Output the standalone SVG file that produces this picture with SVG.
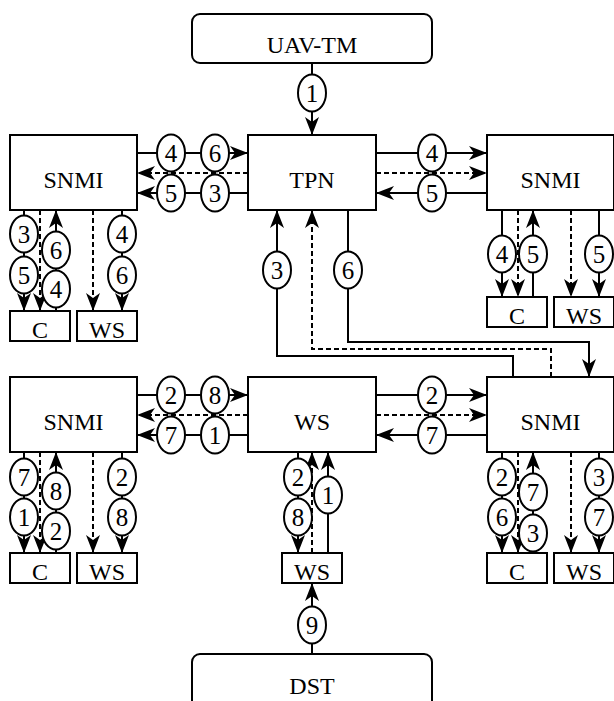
<svg xmlns="http://www.w3.org/2000/svg" width="614" height="701" viewBox="0 0 614 701">
<style>
.box{fill:#fff;stroke:#000;stroke-width:2}
.ln{fill:none;stroke:#000;stroke-width:2;marker-end:url(#ah)}
.dl{fill:none;stroke:#000;stroke-width:2;stroke-dasharray:5,3;marker-end:url(#ah)}
.el ellipse{fill:#fff;stroke:#000;stroke-width:2}
</style>
<defs>
<marker id="ah" markerUnits="userSpaceOnUse" markerWidth="20" markerHeight="16" refX="18" refY="8" orient="auto">
<path d="M18,8 L0,1 L5,8 L0,15 Z" fill="#000"/>
</marker>
</defs>
<rect width="614" height="701" fill="#fff"/>
<g id="connectors">
<path class="ln" d="M312,63 V135"/>
<path class="ln" d="M137,153 H248"/>
<path class="dl" d="M248,173 H137"/>
<path class="ln" d="M248,193 H137"/>
<path class="ln" d="M376,153 H487"/>
<path class="dl" d="M376,173 H487"/>
<path class="ln" d="M487,193 H376"/>
<path class="ln" d="M24,210 V311"/>
<path class="dl" d="M40,210 V311"/>
<path class="ln" d="M56,311 V210"/>
<path class="dl" d="M93,210 V311"/>
<path class="ln" d="M122,210 V311"/>
<path class="ln" d="M502,210 V297"/>
<path class="dl" d="M518,210 V297"/>
<path class="ln" d="M533,297 V210"/>
<path class="dl" d="M571,210 V297"/>
<path class="ln" d="M599,210 V297"/>
<path class="ln" d="M513,377 V356 H277 V210"/>
<path class="dl" d="M551,377 V349 H312 V210"/>
<path class="ln" d="M348,210 V342 H589 V377"/>
<path class="ln" d="M137,395 H248"/>
<path class="dl" d="M248,415 H137"/>
<path class="ln" d="M248,435 H137"/>
<path class="ln" d="M376,395 H487"/>
<path class="dl" d="M376,415 H487"/>
<path class="ln" d="M487,435 H376"/>
<path class="ln" d="M24,452 V553"/>
<path class="dl" d="M40,452 V553"/>
<path class="ln" d="M56,553 V452"/>
<path class="dl" d="M93,452 V553"/>
<path class="ln" d="M122,452 V553"/>
<path class="ln" d="M298,452 V553"/>
<path class="dl" d="M312,553 V452"/>
<path class="ln" d="M328,553 V452"/>
<path class="ln" d="M312,654 V583"/>
<path class="ln" d="M502,452 V553"/>
<path class="dl" d="M518,452 V553"/>
<path class="ln" d="M533,553 V452"/>
<path class="dl" d="M571,452 V553"/>
<path class="ln" d="M599,452 V553"/>
<g class="el" font-family="Liberation Serif, serif" font-size="25" text-anchor="middle" fill="#000">
<g transform="translate(312,93)"><ellipse rx="14" ry="18.5"/><text y="8.5">1</text></g>
<g transform="translate(171,153)"><ellipse rx="14" ry="18.5"/><text y="8.5">4</text></g>
<g transform="translate(215,153)"><ellipse rx="14" ry="18.5"/><text y="8.5">6</text></g>
<g transform="translate(171,193)"><ellipse rx="14" ry="18.5"/><text y="8.5">5</text></g>
<g transform="translate(215,193)"><ellipse rx="14" ry="18.5"/><text y="8.5">3</text></g>
<g transform="translate(432,153)"><ellipse rx="14" ry="18.5"/><text y="8.5">4</text></g>
<g transform="translate(432,193)"><ellipse rx="14" ry="18.5"/><text y="8.5">5</text></g>
<g transform="translate(24,234)"><ellipse rx="14" ry="18.5"/><text y="8.5">3</text></g>
<g transform="translate(24,275)"><ellipse rx="14" ry="18.5"/><text y="8.5">5</text></g>
<g transform="translate(56,250)"><ellipse rx="14" ry="18.5"/><text y="8.5">6</text></g>
<g transform="translate(56,289)"><ellipse rx="14" ry="18.5"/><text y="8.5">4</text></g>
<g transform="translate(122,234)"><ellipse rx="14" ry="18.5"/><text y="8.5">4</text></g>
<g transform="translate(122,275)"><ellipse rx="14" ry="18.5"/><text y="8.5">6</text></g>
<g transform="translate(502,254)"><ellipse rx="14" ry="18.5"/><text y="8.5">4</text></g>
<g transform="translate(533,254)"><ellipse rx="14" ry="18.5"/><text y="8.5">5</text></g>
<g transform="translate(599,254)"><ellipse rx="14" ry="18.5"/><text y="8.5">5</text></g>
<g transform="translate(277,270)"><ellipse rx="14" ry="18.5"/><text y="8.5">3</text></g>
<g transform="translate(348,270)"><ellipse rx="14" ry="18.5"/><text y="8.5">6</text></g>
<g transform="translate(171,395)"><ellipse rx="14" ry="18.5"/><text y="8.5">2</text></g>
<g transform="translate(215,395)"><ellipse rx="14" ry="18.5"/><text y="8.5">8</text></g>
<g transform="translate(171,435)"><ellipse rx="14" ry="18.5"/><text y="8.5">7</text></g>
<g transform="translate(215,435)"><ellipse rx="14" ry="18.5"/><text y="8.5">1</text></g>
<g transform="translate(432,395)"><ellipse rx="14" ry="18.5"/><text y="8.5">2</text></g>
<g transform="translate(432,435)"><ellipse rx="14" ry="18.5"/><text y="8.5">7</text></g>
<g transform="translate(24,477)"><ellipse rx="14" ry="18.5"/><text y="8.5">7</text></g>
<g transform="translate(24,517)"><ellipse rx="14" ry="18.5"/><text y="8.5">1</text></g>
<g transform="translate(56,491)"><ellipse rx="14" ry="18.5"/><text y="8.5">8</text></g>
<g transform="translate(56,531)"><ellipse rx="14" ry="18.5"/><text y="8.5">2</text></g>
<g transform="translate(122,477)"><ellipse rx="14" ry="18.5"/><text y="8.5">2</text></g>
<g transform="translate(122,517)"><ellipse rx="14" ry="18.5"/><text y="8.5">8</text></g>
<g transform="translate(298,477)"><ellipse rx="14" ry="18.5"/><text y="8.5">2</text></g>
<g transform="translate(298,517)"><ellipse rx="14" ry="18.5"/><text y="8.5">8</text></g>
<g transform="translate(328,495)"><ellipse rx="14" ry="18.5"/><text y="8.5">1</text></g>
<g transform="translate(312,625)"><ellipse rx="14" ry="18.5"/><text y="8.5">9</text></g>
<g transform="translate(502,477)"><ellipse rx="14" ry="18.5"/><text y="8.5">2</text></g>
<g transform="translate(502,517)"><ellipse rx="14" ry="18.5"/><text y="8.5">6</text></g>
<g transform="translate(533,492)"><ellipse rx="14" ry="18.5"/><text y="8.5">7</text></g>
<g transform="translate(533,533)"><ellipse rx="14" ry="18.5"/><text y="8.5">3</text></g>
<g transform="translate(599,477)"><ellipse rx="14" ry="18.5"/><text y="8.5">3</text></g>
<g transform="translate(599,517)"><ellipse rx="14" ry="18.5"/><text y="8.5">7</text></g>
</g>
</g>
<g id="nodes" font-family="Liberation Serif, serif" font-size="24" text-anchor="middle" fill="#000">
<g id="uavtm"><rect class="box" x="192" y="14" width="240" height="49" rx="8"/><text x="312" y="53">UAV-TM</text></g>
<g id="tpn"><rect class="box" x="248" y="135" width="128" height="75"/><text x="312" y="188">TPN</text></g>
<g id="snmi-tl"><rect class="box" x="10" y="135" width="127" height="75"/><text x="73.5" y="188">SNMI</text></g>
<g id="snmi-tr"><rect class="box" x="487" y="135" width="127" height="75"/><text x="550.5" y="188">SNMI</text></g>
<g id="c-tl"><rect class="box" x="10" y="311" width="60" height="30"/><text x="40" y="338">C</text></g>
<g id="ws-tl"><rect class="box" x="77" y="311" width="60" height="30"/><text x="107" y="338">WS</text></g>
<g id="c-tr"><rect class="box" x="487" y="297" width="60" height="30"/><text x="517" y="324">C</text></g>
<g id="ws-tr"><rect class="box" x="554" y="297" width="60" height="30"/><text x="584" y="324">WS</text></g>
<g id="snmi-bl"><rect class="box" x="10" y="377" width="127" height="75"/><text x="73.5" y="430">SNMI</text></g>
<g id="ws-mid"><rect class="box" x="248" y="377" width="128" height="75"/><text x="312" y="430">WS</text></g>
<g id="snmi-br"><rect class="box" x="487" y="377" width="127" height="75"/><text x="550.5" y="430">SNMI</text></g>
<g id="c-bl"><rect class="box" x="10" y="553" width="60" height="30"/><text x="40" y="580">C</text></g>
<g id="ws-bl"><rect class="box" x="77" y="553" width="60" height="30"/><text x="107" y="580">WS</text></g>
<g id="ws-bot"><rect class="box" x="282" y="553" width="60" height="30"/><text x="312" y="580">WS</text></g>
<g id="c-br"><rect class="box" x="487" y="553" width="60" height="30"/><text x="517" y="580">C</text></g>
<g id="ws-br"><rect class="box" x="554" y="553" width="60" height="30"/><text x="584" y="580">WS</text></g>
<g id="dst"><rect class="box" x="192" y="654" width="240" height="60" rx="8"/><text x="312" y="694">DST</text></g>
</g>
</svg>
